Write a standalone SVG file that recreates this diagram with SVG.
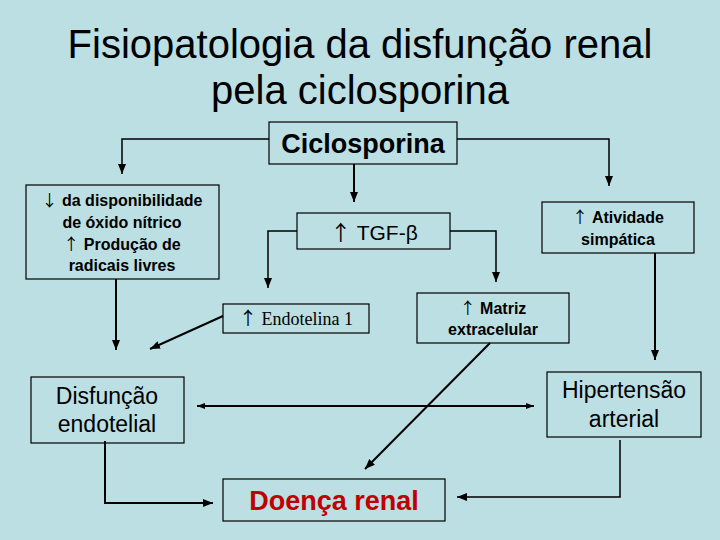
<svg xmlns="http://www.w3.org/2000/svg" width="720" height="540" viewBox="0 0 720 540">
<defs>
<style>
.box{fill:none;stroke:#000;stroke-width:1.2}
.t{font-family:"Liberation Sans",Arial,"DejaVu Sans",sans-serif;fill:#000;text-anchor:middle}
.b{font-weight:bold}
.ar{font-family:"Noto Sans CJK SC","DejaVu Sans",sans-serif;font-weight:normal}
.c{fill:none;stroke:#000;stroke-width:2}
.thin{stroke-width:1.5}
</style>
<marker id="ah" viewBox="0 0 10 8" refX="10" refY="4" markerWidth="10" markerHeight="8" markerUnits="userSpaceOnUse" orient="auto-start-reverse"><path d="M0,0 L10,4 L0,8 z" fill="#000"/></marker>
<marker id="sm" viewBox="0 0 8 6" refX="8" refY="3" markerWidth="8" markerHeight="6" markerUnits="userSpaceOnUse" orient="auto-start-reverse"><path d="M0,0 L8,3 L0,6 z" fill="#000"/></marker>
</defs>
<rect width="720" height="540" fill="#bbdfe3"/>
<g id="title">
<text class="t" x="360" y="58" font-size="40">Fisiopatologia da disfunção renal</text>
<text class="t" x="360" y="104" font-size="40">pela ciclosporina</text>
</g>
<g id="connectors">
<path class="c thin" d="M269,139 H122 V174" marker-end="url(#ah)"/>
<path class="c" d="M354,164 V202" marker-end="url(#ah)"/>
<path class="c thin" d="M457,139 H609 V186" marker-end="url(#ah)"/>
<path class="c thin" d="M297,231 H268 V288" marker-end="url(#ah)"/>
<path class="c thin" d="M450,231 H496 V282" marker-end="url(#ah)"/>
<path class="c" d="M655,253 V360" marker-end="url(#ah)"/>
<path class="c" d="M116,279 V350" marker-end="url(#ah)"/>
<path class="c" d="M223,316 L150,349" marker-end="url(#ah)"/>
<path class="c" d="M490,343 L365,469" marker-end="url(#ah)"/>
<path class="c" d="M197,406 H534" marker-start="url(#sm)" marker-end="url(#sm)"/>
<path class="c" d="M105,441 V503 H213" marker-end="url(#ah)"/>
<path class="c thin" d="M620,440 V497 H457" marker-end="url(#ah)"/>
</g>
<g id="ciclosporina">
<rect class="box" x="269" y="122" width="188" height="42"/>
<text class="t b" x="363" y="153" font-size="27">Ciclosporina</text>
</g>
<g id="no">
<rect class="box" x="26" y="185" width="193" height="94"/>
<text class="t b" x="122" y="206" font-size="16"><tspan class="ar">↓</tspan> da disponibilidade</text>
<text class="t b" x="122" y="228" font-size="16">de óxido nítrico</text>
<text class="t b" x="122" y="250" font-size="16"><tspan class="ar">↑</tspan> Produção de</text>
<text class="t b" x="122" y="271" font-size="16">radicais livres</text>
</g>
<g id="tgf">
<rect class="box" x="297" y="213" width="153" height="36"/>
<text class="t" x="374" y="240" font-size="21"><tspan class="ar">↑</tspan> TGF-β</text>
</g>
<g id="atividade">
<rect class="box" x="542" y="202" width="152" height="51"/>
<text class="t b" x="618" y="223" font-size="16"><tspan class="ar">↑</tspan> Atividade</text>
<text class="t b" x="618" y="245" font-size="16">simpática</text>
</g>
<g id="endotelina">
<rect class="box" x="223" y="304" width="146" height="29"/>
<text class="t" x="296" y="325" font-size="18" style="font-family:'Liberation Serif','Times New Roman',serif"><tspan class="ar">↑</tspan> Endotelina 1</text>
</g>
<g id="matriz">
<rect class="box" x="417" y="293" width="152" height="50"/>
<text class="t b" x="493" y="314" font-size="16"><tspan class="ar">↑</tspan> Matriz</text>
<text class="t b" x="493" y="335" font-size="16">extracelular</text>
</g>
<g id="disfuncao">
<rect class="box" x="31" y="377" width="153" height="66"/>
<text class="t" x="107" y="404" font-size="23">Disfunção</text>
<text class="t" x="107" y="432" font-size="23">endotelial</text>
</g>
<g id="hipertensao">
<rect class="box" x="547" y="372" width="154" height="65"/>
<text class="t" x="624" y="398" font-size="23">Hipertensão</text>
<text class="t" x="624" y="427" font-size="23">arterial</text>
</g>
<g id="doenca">
<rect class="box" x="223" y="479" width="222" height="42"/>
<text class="t b" x="334" y="510" font-size="27" style="fill:#c00000">Doença renal</text>
</g>
</svg>
